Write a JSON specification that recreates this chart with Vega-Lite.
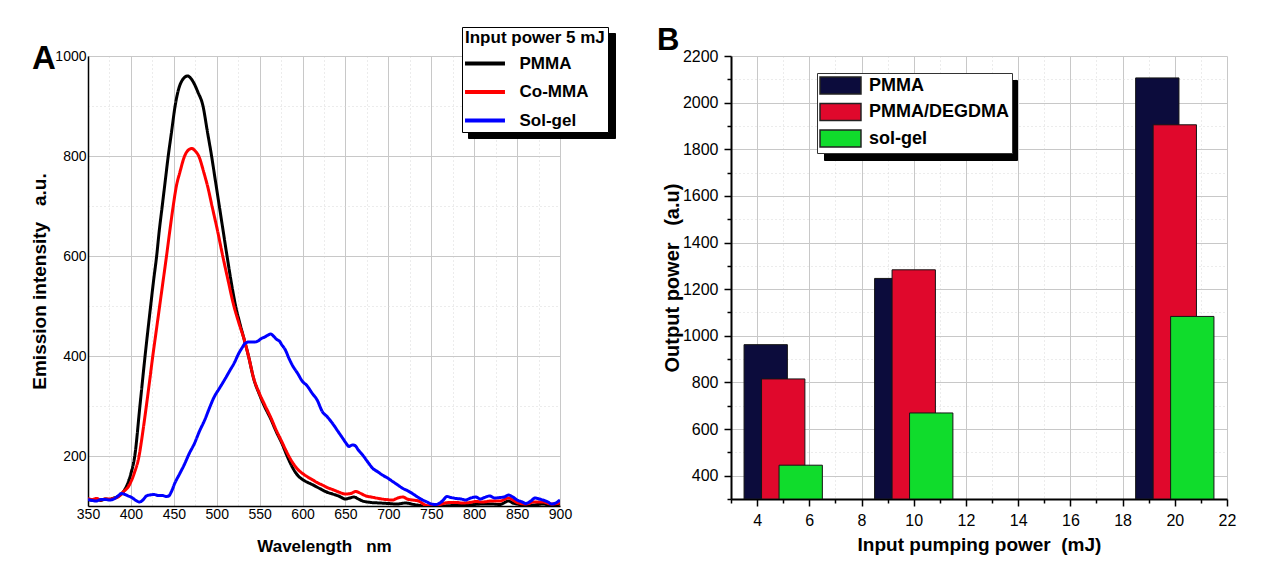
{
 "$schema": "https://vega.github.io/schema/vega-lite/v6.json",
 "background": "white",
 "padding": {"left": 30, "top": 25, "right": 5, "bottom": 5},
 "spacing": 41,
 "resolve": {"scale": {"color": "independent", "opacity": "independent", "strokeDash": "independent"}, "legend": {"color": "independent", "opacity": "independent", "strokeDash": "independent"}},
 "config": {
  "view": {"stroke": null},
  "font": "Liberation Sans",
  "axis": {"domainColor": "black", "labelColor": "black", "titleColor": "black", "tickColor": "black", "labelFont": "Liberation Sans", "titleFont": "Liberation Sans", "titleFontWeight": "bold", "labelOverlap": false, "labelFlush": false, "labelBound": false},
  "legend": {"labelColor": "black", "titleColor": "black", "labelFont": "Liberation Sans", "titleFont": "Liberation Sans"}
 },
 "datasets": {
  "spectra": [
   {"series":"PMMA","wavelength":350,"intensity":113},{"series":"PMMA","wavelength":355,"intensity":112},{"series":"PMMA","wavelength":360,"intensity":114},{"series":"PMMA","wavelength":365,"intensity":111},{"series":"PMMA","wavelength":370,"intensity":114},{"series":"PMMA","wavelength":375,"intensity":113},{"series":"PMMA","wavelength":380,"intensity":116},{"series":"PMMA","wavelength":385,"intensity":119},{"series":"PMMA","wavelength":390,"intensity":126},{"series":"PMMA","wavelength":395,"intensity":140},{"series":"PMMA","wavelength":400,"intensity":165},{"series":"PMMA","wavelength":404.5,"intensity":200},{"series":"PMMA","wavelength":410.5,"intensity":300},{"series":"PMMA","wavelength":416.5,"intensity":400},{"series":"PMMA","wavelength":423,"intensity":500},{"series":"PMMA","wavelength":426.5,"intensity":552},{"series":"PMMA","wavelength":430,"intensity":600},{"series":"PMMA","wavelength":433,"intensity":650},{"series":"PMMA","wavelength":436.5,"intensity":700},{"series":"PMMA","wavelength":440,"intensity":750},{"series":"PMMA","wavelength":443.5,"intensity":800},{"series":"PMMA","wavelength":447.5,"intensity":850},{"series":"PMMA","wavelength":451.5,"intensity":900},{"series":"PMMA","wavelength":455,"intensity":930},{"series":"PMMA","wavelength":460,"intensity":952},{"series":"PMMA","wavelength":466,"intensity":960},{"series":"PMMA","wavelength":472,"intensity":950},{"series":"PMMA","wavelength":478,"intensity":928},{"series":"PMMA","wavelength":484,"intensity":900},{"series":"PMMA","wavelength":489,"intensity":850},{"series":"PMMA","wavelength":494,"intensity":800},{"series":"PMMA","wavelength":498.5,"intensity":750},{"series":"PMMA","wavelength":503,"intensity":700},{"series":"PMMA","wavelength":507.5,"intensity":650},{"series":"PMMA","wavelength":512,"intensity":600},{"series":"PMMA","wavelength":516.5,"intensity":552},{"series":"PMMA","wavelength":522,"intensity":500},{"series":"PMMA","wavelength":527,"intensity":465},{"series":"PMMA","wavelength":532,"intensity":433},{"series":"PMMA","wavelength":537,"intensity":400},{"series":"PMMA","wavelength":543,"intensity":355},{"series":"PMMA","wavelength":550,"intensity":322},{"series":"PMMA","wavelength":556,"intensity":298},{"series":"PMMA","wavelength":563,"intensity":274},{"series":"PMMA","wavelength":569,"intensity":250},{"series":"PMMA","wavelength":576,"intensity":225},{"series":"PMMA","wavelength":582,"intensity":200},{"series":"PMMA","wavelength":588,"intensity":178},{"series":"PMMA","wavelength":595,"intensity":160},{"series":"PMMA","wavelength":600,"intensity":153},{"series":"PMMA","wavelength":605,"intensity":148},{"series":"PMMA","wavelength":610,"intensity":144},{"series":"PMMA","wavelength":620,"intensity":135},{"series":"PMMA","wavelength":628,"intensity":128},{"series":"PMMA","wavelength":635,"intensity":124},{"series":"PMMA","wavelength":642,"intensity":120},{"series":"PMMA","wavelength":650,"intensity":114},{"series":"PMMA","wavelength":655,"intensity":116},{"series":"PMMA","wavelength":660,"intensity":118},{"series":"PMMA","wavelength":665,"intensity":114},{"series":"PMMA","wavelength":670,"intensity":110},{"series":"PMMA","wavelength":680,"intensity":107},{"series":"PMMA","wavelength":690,"intensity":106},{"series":"PMMA","wavelength":700,"intensity":105},{"series":"PMMA","wavelength":710,"intensity":104},{"series":"PMMA","wavelength":720,"intensity":106},{"series":"PMMA","wavelength":730,"intensity":103},{"series":"PMMA","wavelength":740,"intensity":100},{"series":"PMMA","wavelength":745,"intensity":98},{"series":"PMMA","wavelength":755,"intensity":98},{"series":"PMMA","wavelength":765,"intensity":100},{"series":"PMMA","wavelength":775,"intensity":101},{"series":"PMMA","wavelength":790,"intensity":102},{"series":"PMMA","wavelength":800,"intensity":103},{"series":"PMMA","wavelength":810,"intensity":104},{"series":"PMMA","wavelength":820,"intensity":104},{"series":"PMMA","wavelength":830,"intensity":103},{"series":"PMMA","wavelength":840,"intensity":110},{"series":"PMMA","wavelength":845,"intensity":106},{"series":"PMMA","wavelength":850,"intensity":104},{"series":"PMMA","wavelength":860,"intensity":100},{"series":"PMMA","wavelength":870,"intensity":102},{"series":"PMMA","wavelength":880,"intensity":104},{"series":"PMMA","wavelength":890,"intensity":101},{"series":"PMMA","wavelength":900,"intensity":104},
   {"series":"Co-MMA","wavelength":350,"intensity":115},{"series":"Co-MMA","wavelength":355,"intensity":113},{"series":"Co-MMA","wavelength":360,"intensity":115},{"series":"Co-MMA","wavelength":365,"intensity":112},{"series":"Co-MMA","wavelength":370,"intensity":114},{"series":"Co-MMA","wavelength":375,"intensity":114},{"series":"Co-MMA","wavelength":380,"intensity":115},{"series":"Co-MMA","wavelength":385,"intensity":118},{"series":"Co-MMA","wavelength":391,"intensity":128},{"series":"Co-MMA","wavelength":397.5,"intensity":140},{"series":"Co-MMA","wavelength":404,"intensity":166},{"series":"Co-MMA","wavelength":409.5,"intensity":200},{"series":"Co-MMA","wavelength":414,"intensity":250},{"series":"Co-MMA","wavelength":418,"intensity":300},{"series":"Co-MMA","wavelength":421.8,"intensity":350},{"series":"Co-MMA","wavelength":425.5,"intensity":400},{"series":"Co-MMA","wavelength":429.5,"intensity":450},{"series":"Co-MMA","wavelength":433.5,"intensity":500},{"series":"Co-MMA","wavelength":437.5,"intensity":550},{"series":"Co-MMA","wavelength":441.5,"intensity":600},{"series":"Co-MMA","wavelength":445.3,"intensity":650},{"series":"Co-MMA","wavelength":449.3,"intensity":700},{"series":"Co-MMA","wavelength":453,"intensity":740},{"series":"Co-MMA","wavelength":457,"intensity":767},{"series":"Co-MMA","wavelength":462.6,"intensity":800},{"series":"Co-MMA","wavelength":467,"intensity":812},{"series":"Co-MMA","wavelength":471,"intensity":815},{"series":"Co-MMA","wavelength":475,"intensity":810},{"series":"Co-MMA","wavelength":479,"intensity":800},{"series":"Co-MMA","wavelength":485,"intensity":767},{"series":"Co-MMA","wavelength":490,"intensity":735},{"series":"Co-MMA","wavelength":494.5,"intensity":700},{"series":"Co-MMA","wavelength":501,"intensity":650},{"series":"Co-MMA","wavelength":507,"intensity":600},{"series":"Co-MMA","wavelength":513,"intensity":553},{"series":"Co-MMA","wavelength":520,"intensity":500},{"series":"Co-MMA","wavelength":526,"intensity":465},{"series":"Co-MMA","wavelength":532,"intensity":433},{"series":"Co-MMA","wavelength":537,"intensity":400},{"series":"Co-MMA","wavelength":543,"intensity":356},{"series":"Co-MMA","wavelength":550,"intensity":324},{"series":"Co-MMA","wavelength":556,"intensity":302},{"series":"Co-MMA","wavelength":563,"intensity":277},{"series":"Co-MMA","wavelength":569,"intensity":253},{"series":"Co-MMA","wavelength":576,"intensity":228},{"series":"Co-MMA","wavelength":581,"intensity":210},{"series":"Co-MMA","wavelength":588,"intensity":188},{"series":"Co-MMA","wavelength":594,"intensity":174},{"series":"Co-MMA","wavelength":600,"intensity":165},{"series":"Co-MMA","wavelength":606,"intensity":158},{"series":"Co-MMA","wavelength":612,"intensity":152},{"series":"Co-MMA","wavelength":618,"intensity":146},{"series":"Co-MMA","wavelength":623,"intensity":142},{"series":"Co-MMA","wavelength":630,"intensity":136},{"series":"Co-MMA","wavelength":635,"intensity":133},{"series":"Co-MMA","wavelength":642,"intensity":128},{"series":"Co-MMA","wavelength":650,"intensity":124},{"series":"Co-MMA","wavelength":656,"intensity":125},{"series":"Co-MMA","wavelength":662,"intensity":129},{"series":"Co-MMA","wavelength":668,"intensity":125},{"series":"Co-MMA","wavelength":674,"intensity":120},{"series":"Co-MMA","wavelength":680,"intensity":118},{"series":"Co-MMA","wavelength":689,"intensity":115},{"series":"Co-MMA","wavelength":697,"intensity":113},{"series":"Co-MMA","wavelength":705,"intensity":112},{"series":"Co-MMA","wavelength":711,"intensity":116},{"series":"Co-MMA","wavelength":717,"intensity":118},{"series":"Co-MMA","wavelength":722,"intensity":114},{"series":"Co-MMA","wavelength":728,"intensity":112},{"series":"Co-MMA","wavelength":735,"intensity":110},{"series":"Co-MMA","wavelength":743,"intensity":102},{"series":"Co-MMA","wavelength":750,"intensity":100},{"series":"Co-MMA","wavelength":755,"intensity":100},{"series":"Co-MMA","wavelength":762,"intensity":104},{"series":"Co-MMA","wavelength":771,"intensity":107},{"series":"Co-MMA","wavelength":780,"intensity":107},{"series":"Co-MMA","wavelength":786,"intensity":106},{"series":"Co-MMA","wavelength":795,"intensity":107},{"series":"Co-MMA","wavelength":802,"intensity":109},{"series":"Co-MMA","wavelength":810,"intensity":108},{"series":"Co-MMA","wavelength":820,"intensity":110},{"series":"Co-MMA","wavelength":830,"intensity":110},{"series":"Co-MMA","wavelength":840,"intensity":116},{"series":"Co-MMA","wavelength":845,"intensity":112},{"series":"Co-MMA","wavelength":850,"intensity":107},{"series":"Co-MMA","wavelength":860,"intensity":104},{"series":"Co-MMA","wavelength":870,"intensity":108},{"series":"Co-MMA","wavelength":880,"intensity":108},{"series":"Co-MMA","wavelength":890,"intensity":104},{"series":"Co-MMA","wavelength":900,"intensity":106},
   {"series":"Sol-gel","wavelength":350,"intensity":113},{"series":"Sol-gel","wavelength":355,"intensity":111},{"series":"Sol-gel","wavelength":360,"intensity":110},{"series":"Sol-gel","wavelength":365,"intensity":113},{"series":"Sol-gel","wavelength":370,"intensity":113},{"series":"Sol-gel","wavelength":375,"intensity":112},{"series":"Sol-gel","wavelength":380,"intensity":114},{"series":"Sol-gel","wavelength":385,"intensity":120},{"series":"Sol-gel","wavelength":389,"intensity":125},{"series":"Sol-gel","wavelength":393,"intensity":123},{"series":"Sol-gel","wavelength":397,"intensity":120},{"series":"Sol-gel","wavelength":401,"intensity":117},{"series":"Sol-gel","wavelength":405,"intensity":112},{"series":"Sol-gel","wavelength":410,"intensity":108},{"series":"Sol-gel","wavelength":414,"intensity":112},{"series":"Sol-gel","wavelength":418,"intensity":120},{"series":"Sol-gel","wavelength":422,"intensity":122},{"series":"Sol-gel","wavelength":427,"intensity":123},{"series":"Sol-gel","wavelength":432,"intensity":121},{"series":"Sol-gel","wavelength":437,"intensity":121},{"series":"Sol-gel","wavelength":441,"intensity":119},{"series":"Sol-gel","wavelength":444,"intensity":120},{"series":"Sol-gel","wavelength":447,"intensity":128},{"series":"Sol-gel","wavelength":451,"intensity":145},{"series":"Sol-gel","wavelength":457,"intensity":165},{"series":"Sol-gel","wavelength":462,"intensity":182},{"series":"Sol-gel","wavelength":468,"intensity":205},{"series":"Sol-gel","wavelength":474,"intensity":225},{"series":"Sol-gel","wavelength":480,"intensity":250},{"series":"Sol-gel","wavelength":486,"intensity":272},{"series":"Sol-gel","wavelength":492,"intensity":298},{"series":"Sol-gel","wavelength":497,"intensity":318},{"series":"Sol-gel","wavelength":503,"intensity":335},{"series":"Sol-gel","wavelength":509,"intensity":352},{"series":"Sol-gel","wavelength":515,"intensity":370},{"series":"Sol-gel","wavelength":521,"intensity":388},{"series":"Sol-gel","wavelength":525,"intensity":403},{"series":"Sol-gel","wavelength":529,"intensity":415},{"series":"Sol-gel","wavelength":533,"intensity":425},{"series":"Sol-gel","wavelength":537,"intensity":428},{"series":"Sol-gel","wavelength":544,"intensity":428},{"series":"Sol-gel","wavelength":548,"intensity":430},{"series":"Sol-gel","wavelength":552,"intensity":435},{"series":"Sol-gel","wavelength":556,"intensity":438},{"series":"Sol-gel","wavelength":560,"intensity":442},{"series":"Sol-gel","wavelength":563,"intensity":444},{"series":"Sol-gel","wavelength":566,"intensity":440},{"series":"Sol-gel","wavelength":570,"intensity":433},{"series":"Sol-gel","wavelength":573,"intensity":430},{"series":"Sol-gel","wavelength":576,"intensity":422},{"series":"Sol-gel","wavelength":580,"intensity":412},{"series":"Sol-gel","wavelength":584,"intensity":396},{"series":"Sol-gel","wavelength":588,"intensity":382},{"series":"Sol-gel","wavelength":594,"intensity":366},{"series":"Sol-gel","wavelength":600,"intensity":349},{"series":"Sol-gel","wavelength":605,"intensity":341},{"series":"Sol-gel","wavelength":611,"intensity":326},{"series":"Sol-gel","wavelength":617,"intensity":312},{"series":"Sol-gel","wavelength":623,"intensity":289},{"series":"Sol-gel","wavelength":629,"intensity":278},{"series":"Sol-gel","wavelength":635,"intensity":265},{"series":"Sol-gel","wavelength":641,"intensity":250},{"series":"Sol-gel","wavelength":647,"intensity":235},{"series":"Sol-gel","wavelength":651,"intensity":225},{"series":"Sol-gel","wavelength":654,"intensity":219},{"series":"Sol-gel","wavelength":658,"intensity":222},{"series":"Sol-gel","wavelength":661,"intensity":221},{"series":"Sol-gel","wavelength":665,"intensity":212},{"series":"Sol-gel","wavelength":670,"intensity":202},{"series":"Sol-gel","wavelength":676,"intensity":188},{"series":"Sol-gel","wavelength":682,"intensity":175},{"series":"Sol-gel","wavelength":688,"intensity":168},{"series":"Sol-gel","wavelength":693,"intensity":162},{"series":"Sol-gel","wavelength":699,"intensity":156},{"series":"Sol-gel","wavelength":705,"intensity":149},{"series":"Sol-gel","wavelength":711,"intensity":142},{"series":"Sol-gel","wavelength":717,"intensity":135},{"series":"Sol-gel","wavelength":723,"intensity":130},{"series":"Sol-gel","wavelength":728,"intensity":125},{"series":"Sol-gel","wavelength":734,"intensity":118},{"series":"Sol-gel","wavelength":740,"intensity":112},{"series":"Sol-gel","wavelength":745,"intensity":108},{"series":"Sol-gel","wavelength":750,"intensity":104},{"series":"Sol-gel","wavelength":755,"intensity":103},{"series":"Sol-gel","wavelength":760,"intensity":106},{"series":"Sol-gel","wavelength":764,"intensity":112},{"series":"Sol-gel","wavelength":768,"intensity":119},{"series":"Sol-gel","wavelength":773,"intensity":117},{"series":"Sol-gel","wavelength":779,"intensity":115},{"series":"Sol-gel","wavelength":785,"intensity":114},{"series":"Sol-gel","wavelength":790,"intensity":112},{"series":"Sol-gel","wavelength":796,"intensity":116},{"series":"Sol-gel","wavelength":802,"intensity":118},{"series":"Sol-gel","wavelength":807,"intensity":114},{"series":"Sol-gel","wavelength":812,"intensity":117},{"series":"Sol-gel","wavelength":818,"intensity":120},{"series":"Sol-gel","wavelength":824,"intensity":116},{"series":"Sol-gel","wavelength":830,"intensity":117},{"series":"Sol-gel","wavelength":835,"intensity":118},{"series":"Sol-gel","wavelength":840,"intensity":122},{"series":"Sol-gel","wavelength":845,"intensity":118},{"series":"Sol-gel","wavelength":850,"intensity":112},{"series":"Sol-gel","wavelength":856,"intensity":108},{"series":"Sol-gel","wavelength":860,"intensity":105},{"series":"Sol-gel","wavelength":866,"intensity":110},{"series":"Sol-gel","wavelength":871,"intensity":116},{"series":"Sol-gel","wavelength":876,"intensity":114},{"series":"Sol-gel","wavelength":880,"intensity":112},{"series":"Sol-gel","wavelength":886,"intensity":108},{"series":"Sol-gel","wavelength":890,"intensity":104},{"series":"Sol-gel","wavelength":895,"intensity":106},{"series":"Sol-gel","wavelength":900,"intensity":112}
  ],
  "bars": [
   {"series":"PMMA","energy":5,"output":962},{"series":"PMMA","energy":10,"output":1246},{"series":"PMMA","energy":20,"output":2106},
   {"series":"PMMA/DEGDMA","energy":5,"output":815},{"series":"PMMA/DEGDMA","energy":10,"output":1283},{"series":"PMMA/DEGDMA","energy":20,"output":1905},
   {"series":"sol-gel","energy":5,"output":445},{"series":"sol-gel","energy":10,"output":669},{"series":"sol-gel","energy":20,"output":1083}
  ]
 },
 "hconcat": [
  {
   "width": 472,
   "height": 450,
   "title": {"text": "A", "anchor": "start", "frame": "group", "font": "Liberation Sans", "fontSize": 33, "fontWeight": "bold", "color": "black", "dx": -56, "dy": 53},
   "data": {"name": "spectra"},
   "mark": {"type": "line", "strokeWidth": 3, "clip": true, "interpolate": "monotone"},
   "encoding": {
    "x": {"field": "wavelength", "type": "quantitative", "scale": {"domain": [350, 900], "nice": false},
     "axis": {"title": "Wavelength\u00a0\u00a0\u00a0nm", "titleFontSize": 17, "titlePadding": 17, "values": [350,375,400,425,450,475,500,525,550,575,600,625,650,675,700,725,750,775,800,825,850,875,900], "format": "d", "labelExpr": "datum.value % 50 === 0 ? datum.label : ''", "labelFontSize": 14, "labelPadding": 1, "ticks": false, "domainWidth": 1.5, "grid": true, "gridWidth": 1,
      "gridColor": {"condition": {"test": "datum.value % 50 === 0", "value": "#c8c8c8"}, "value": "#d8d8d8"},
      "gridDash": {"condition": {"test": "datum.value % 50 === 0", "value": []}, "value": [1, 3]}}},
    "y": {"field": "intensity", "type": "quantitative", "scale": {"domain": [100, 1000], "nice": false, "zero": false},
     "axis": {"title": "Emission intensity\u00a0\u00a0\u00a0a.u.", "titleFontSize": 19, "titlePadding": 5, "values": [100,200,300,400,500,600,700,800,900,1000], "format": "d", "labelExpr": "datum.value % 200 === 0 ? datum.label : ''", "labelFontSize": 14, "labelPadding": 2, "ticks": false, "domainWidth": 1.5, "grid": true, "gridWidth": 1,
      "gridColor": {"condition": {"test": "datum.value % 200 === 0", "value": "#c8c8c8"}, "value": "#d8d8d8"},
      "gridDash": {"condition": {"test": "datum.value % 200 === 0", "value": []}, "value": [1, 3]}}},
    "color": {"field": "series", "type": "nominal", "sort": ["PMMA", "Co-MMA", "Sol-gel"],
     "scale": {"domain": ["PMMA", "Co-MMA", "Sol-gel"], "range": ["#000000", "#ff0000", "#0000ff"]},
     "legend": {"zindex": 2, "title": "Input power 5 mJ", "orient": "none", "legendX": 374, "legendY": -29, "direction": "vertical", "fillColor": "white", "strokeColor": "black", "padding": 3, "symbolType": "M-2.35,0L2.35,0", "symbolSize": 289, "symbolStrokeWidth": 4, "symbolOffset": 9.5, "labelFontSize": 17, "labelFontWeight": "bold", "titleFontSize": 17, "titleFontWeight": "bold", "labelOffset": 24, "rowPadding": 9.5, "titlePadding": 6}},
    "strokeDash": {"field": "series", "type": "nominal",
     "scale": {"range": [[1, 0], [1, 0], [1, 0]]},
     "legend": {"zindex": 1, "title": "\u00a0", "labelExpr": "'\u00a0'", "orient": "none", "legendX": 380, "legendY": -23, "direction": "vertical", "fillColor": "black", "strokeColor": "black", "labelColor": "black", "titleColor": "black", "padding": 3, "symbolType": "M-2.35,0L2.35,0", "symbolSize": 289, "symbolStrokeWidth": 4, "symbolStrokeColor": "black", "symbolOffset": 9.5, "labelFontSize": 17, "labelFontWeight": "bold", "titleFontSize": 17, "titleFontWeight": "bold", "labelOffset": 110, "rowPadding": 9.5, "titlePadding": 6}}
   }
  },
  {
   "width": 496,
   "height": 443,
   "title": {"text": "B", "anchor": "start", "frame": "group", "font": "Liberation Sans", "fontSize": 31, "fontWeight": "bold", "color": "black", "dx": -74, "dy": 13},
   "data": {"name": "bars"},
   "transform": [
    {"calculate": "datum.energy + (indexof(['PMMA','PMMA/DEGDMA','sol-gel'], datum.series) - 1) * 0.67 - 0.83", "as": "left"},
    {"calculate": "datum.left + 1.66", "as": "right"}
   ],
   "mark": {"type": "bar", "clip": true, "stroke": "#151515", "strokeWidth": 1},
   "encoding": {
    "x": {"field": "left", "type": "quantitative", "scale": {"domain": [3, 22], "nice": false, "zero": false},
     "axis": {"title": "Input pumping power\u00a0\u00a0(mJ)", "titleFontSize": 19, "titlePadding": 7, "values": [3,4,5,6,7,8,9,10,11,12,13,14,15,16,17,18,19,20,21,22], "format": "d", "labelExpr": "datum.value % 2 === 0 ? datum.label : ''", "labelFontSize": 16, "labelPadding": 6, "domainWidth": 2, "tickWidth": 1.5,
      "tickSize": {"condition": {"test": "datum.value % 2 === 0", "value": 7}, "value": 4},
      "grid": true, "gridWidth": 1,
      "gridColor": {"condition": {"test": "datum.value % 2 === 0", "value": "#c8c8c8"}, "value": "#d8d8d8"},
      "gridDash": {"condition": {"test": "datum.value % 2 === 0", "value": []}, "value": [1, 3]}}},
    "x2": {"field": "right"},
    "y": {"field": "output", "type": "quantitative", "scale": {"domain": [300, 2200], "nice": false, "zero": false},
     "axis": {"title": "Output power\u00a0\u00a0\u00a0(a.u)", "titleFontSize": 20, "titlePadding": 0, "values": [300,400,500,600,700,800,900,1000,1100,1200,1300,1400,1500,1600,1700,1800,1900,2000,2100,2200], "format": "d", "labelExpr": "datum.value % 200 === 0 ? datum.label : ''", "labelFontSize": 16, "labelPadding": 6, "domainWidth": 2, "tickWidth": 1.5,
      "tickSize": {"condition": {"test": "datum.value % 200 === 0", "value": 7}, "value": 4},
      "grid": true, "gridWidth": 1,
      "gridColor": {"condition": {"test": "datum.value % 200 === 0", "value": "#c8c8c8"}, "value": "#d8d8d8"},
      "gridDash": {"condition": {"test": "datum.value % 200 === 0", "value": []}, "value": [1, 3]}}},
    "y2": {"datum": 300},
    "color": {"field": "series", "type": "nominal",
     "scale": {"domain": ["PMMA", "PMMA/DEGDMA", "sol-gel"], "range": ["#0c0c3c", "#e0082c", "#10dc2c"]},
     "legend": {"zindex": 2, "title": null, "orient": "none", "legendX": 86, "legendY": 17, "direction": "vertical", "fillColor": "white", "strokeColor": "#333333", "padding": 3, "symbolType": "M-2.41,-1L2.41,-1L2.41,1L-2.41,1Z", "symbolSize": 289, "symbolOffset": 11, "symbolStrokeColor": "#222222", "symbolStrokeWidth": 1.5, "symbolOpacity": 1, "labelFontSize": 18, "labelFontWeight": "bold", "labelOffset": 19, "rowPadding": 3.5}},
    "opacity": {"field": "series", "type": "nominal",
     "scale": {"range": [1, 1, 1]},
     "legend": {"zindex": 1, "title": null, "labelExpr": "'\u00a0'", "orient": "none", "legendX": 93, "legendY": 24, "direction": "vertical", "fillColor": "black", "strokeColor": "black", "labelColor": "black", "padding": 3, "symbolType": "M-2.41,-1L2.41,-1L2.41,1L-2.41,1Z", "symbolSize": 289, "symbolOffset": 11, "symbolFillColor": "black", "symbolStrokeColor": "black", "symbolStrokeWidth": 1.5, "labelFontSize": 18, "labelFontWeight": "bold", "labelOffset": 157, "rowPadding": 3.5}}
   }
  }
 ]
}
